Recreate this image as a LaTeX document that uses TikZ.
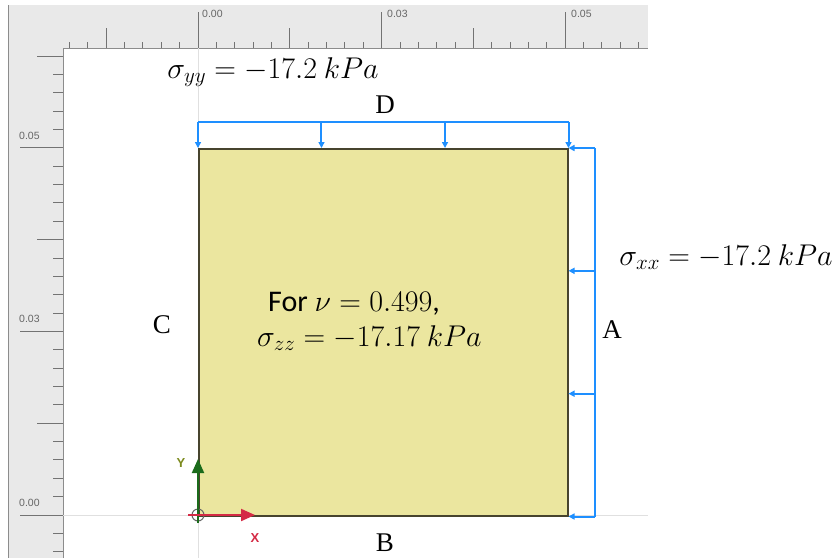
\RequirePackage{fix-cm}
\documentclass[tikz,border=0pt]{standalone}
\usepackage[no-math]{fontspec}
\setmainfont{Carlito}
\newfontfamily\lblfont{Liberation Serif}
\newfontfamily\rulerfont{Liberation Sans}
\usepackage{tikz}
\usetikzlibrary{positioning,arrows.meta,calc}
\usepackage{xcolor}
\definecolor{plateyellow}{HTML}{EBE69F}
\definecolor{loadblue}{HTML}{1E8FFF}
\definecolor{rulergray}{HTML}{E9E9E9}
\definecolor{axisred}{HTML}{D42A45}
\definecolor{axisgreen}{HTML}{1B6B1B}
\definecolor{ylblcolor}{HTML}{7C8A1E}

\tikzset{
  load/.style={draw=loadblue,line width=2pt,-{Triangle[length=6pt,width=6pt]}},
  loadline/.style={draw=loadblue,line width=2pt},
  lbl/.style={font=\fontsize{27}{27}\lblfont,inner sep=0pt},
  eq/.style={font=\fontsize{30}{30}\selectfont,inner sep=0pt,anchor=base},
  rulerlbl/.style={font=\fontsize{10.5}{10.5}\rulerfont,text=black!60,inner sep=0pt,anchor=west},
  tick/.style={draw=black!55,line width=0.9pt},
  guide/.style={draw=black!12,line width=1pt},
}

\begin{document}
\begin{tikzpicture}[x=1pt,y=-1pt]
\useasboundingbox (0,0) rectangle (836,558);
% rulers
\fill[rulergray] (8,5) rectangle (648,48);
\fill[rulergray] (8,48) rectangle (63,558);
\draw[black!45,line width=1pt] (8,5) -- (8,558);
\draw[black!45,line width=1pt] (63,558) -- (63,48) -- (648,48);
\foreach \k in {-7,...,24} {
  \pgfmathsetmacro\tl{ifthenelse(mod(\k,10)==0,36,ifthenelse(mod(\k,5)==0,20,6))}
  \draw[tick] (198+\k*18.36,48) -- ++(0,-\tl);
}
\foreach \k in {-2,...,25} {
  \pgfmathsetmacro\tl{ifthenelse(mod(\k,10)==0,43,ifthenelse(mod(\k,5)==0,26,10))}
  \draw[tick] (63,515-\k*18.36) -- ++(-\tl,0);
}
\node[rulerlbl] (t0) at (202,14) {0.00};
\node[rulerlbl] (t3) at (387,14) {0.03};
\node[rulerlbl] (t5) at (571,14) {0.05};
\node[rulerlbl] (l5) at (19,136) {0.05};
\node[rulerlbl] (l3) at (19,319) {0.03};
\node[rulerlbl] (l0) at (19,503) {0.00};
% guide lines through the origin
\draw[guide] (198,48) -- (198,558);
\draw[guide] (63,515) -- (648,515);
% plate
\node[draw=black!65!olive,line width=1.5pt,fill=plateyellow,inner sep=0pt,
      minimum width=369pt,minimum height=367pt,anchor=north west] (plate) at (198,148) {};
% loads
\draw[loadline] ([yshift=26pt]plate.north west) -- ([yshift=26pt]plate.north east);
\foreach \t in {0,0.3333,0.6667,1}
  \draw[load] ($(plate.north west)!\t!(plate.north east)+(0,-26)$) -- ($(plate.north west)!\t!(plate.north east)$);
\draw[loadline] ([xshift=26pt]plate.north east) -- ([xshift=26pt]plate.south east);
\foreach \t in {0,0.3333,0.6667,1}
  \draw[load] ($(plate.north east)!\t!(plate.south east)+(26,0)$) -- ($(plate.north east)!\t!(plate.south east)$);
% axis triad
\node[circle,draw=black!60,line width=1pt,minimum size=12pt,inner sep=0pt] (o) at (198,515) {};
\draw[axisgreen,line width=2pt,-{Triangle[length=14pt,width=12pt]}] ([yshift=-8pt]o.center) -- ++(0,-64);
\draw[axisred,line width=2pt,-{Triangle[length=14pt,width=12pt]}] ([xshift=-10pt]o.center) -- ++(67,0);
\node[text=ylblcolor,font=\fontsize{13}{13}\rulerfont\bfseries] (ylbl) at (181,463) {Y};
\node[text=axisred,font=\fontsize{13}{13}\rulerfont\bfseries] (xlbl) at (255,538) {X};
% side labels
\node[lbl] (D) at (385,105) {D};
\node[lbl] (A) at (612,330) {A};
\node[lbl] (C) at (162,325) {C};
\node[lbl] (B) at (385,543) {B};
% stresses
\node[eq] (syy) at (273,78) {$\sigma_{yy} = -17.2\ kPa$};
\node[eq] (sxx) at (726,265) {$\sigma_{xx} = -17.2\ kPa$};
\node[eq,anchor=base west] (nu) at (268,311) {For $\nu = 0.499$,};
\node[eq,anchor=base west] (szz) at (257,346) {$\sigma_{zz} = -17.17\ kPa$};
\end{tikzpicture}
\end{document}
